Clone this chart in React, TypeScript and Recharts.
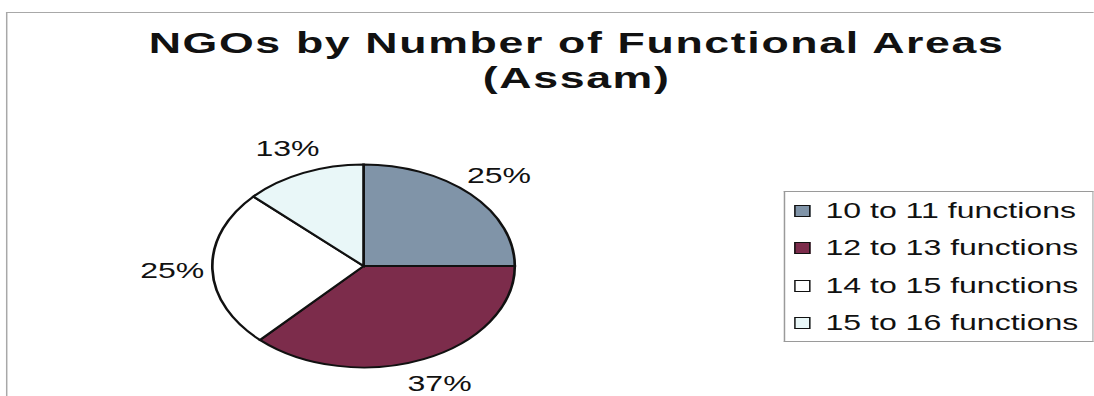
import React from "react";
import { PieChart, Pie, Cell, Legend } from "recharts";

const categories = ["10 to 11 functions", "12 to 13 functions", "14 to 15 functions", "15 to 16 functions"];
const shares = [25, 37, 25, 13];
const colors = ["#8094A8", "#7C2C4B", "#FFFFFF", "#E9F7F8"];
const titleLines = ["NGOs by Number of Functional Areas", "(Assam)"];

const data = categories.map((name, i) => ({ name, value: shares[i], color: colors[i] }));

const FULL_W = 1094;
const H = 396;
const SX = 1.49;
const W = FULL_W / SX;
const RAD = Math.PI / 180;
const FONT = "'Liberation Sans', Arial, sans-serif";

const renderLabel = (props: any) => {
  const { cx, cy, midAngle, outerRadius, value } = props;
  const r = outerRadius + 27;
  const x = cx + r * Math.cos(-midAngle * RAD);
  const y = cy + r * Math.sin(-midAngle * RAD);
  return (
    <text x={x} y={y} textAnchor="middle" dominantBaseline="central" fontFamily={FONT} fontSize={21.5} fill="#111">
      {`${value}%`}
    </text>
  );
};

const renderLegend = (props: any) => {
  const { payload } = props;
  return (
    <div
      style={{
        border: "1px solid #9a9a9a",
        borderRight: "1px solid #bbb",
        width: 208,
        height: 151,
        boxSizing: "border-box",
        paddingTop: 0,
        paddingLeft: 6,
        fontFamily: FONT,
      }}
    >
      {(payload || []).map((entry: any, i: number) => (
        <div key={i} style={{ display: "flex", alignItems: "center", height: 37.5, whiteSpace: "nowrap" }}>
          <span
            style={{
              display: "inline-block",
              width: 9,
              height: 10,
              border: "1.6px solid #111",
              background: entry.payload ? entry.payload.color : entry.color,
              marginRight: 10,
            }}
          />
          <span style={{ fontSize: 21.5, color: "#111", lineHeight: "22px" }}>{entry.value}</span>
        </div>
      ))}
    </div>
  );
};

export default function App() {
  return (
    <div style={{ position: "absolute", left: 0, top: 0, width: FULL_W, height: H, overflow: "hidden", background: "#fff" }}>
      <div style={{ width: W, height: H, transform: `scaleX(${SX})`, transformOrigin: "0 0", position: "relative" }}>
        <div
          style={{
            position: "absolute",
            left: 4,
            top: 12,
            width: W - 4,
            height: H - 12,
            borderTop: "1.5px solid #a8a8a8",
            borderLeft: "1.5px solid #a8a8a8",
            boxSizing: "border-box",
          }}
        />
        <PieChart width={W} height={H} margin={{ top: 0, right: 0, bottom: 0, left: 0 }}>
          <text x={387} y={53} textAnchor="middle" fontFamily={FONT} fontWeight="bold" fontSize={30} letterSpacing={1.1} fill="#111">
            {titleLines[0]}
          </text>
          <text x={387} y={88} textAnchor="middle" fontFamily={FONT} fontWeight="bold" fontSize={30} letterSpacing={1.1} fill="#111">
            {titleLines[1]}
          </text>
          <Pie
            data={data}
            dataKey="value"
            nameKey="name"
            cx={244}
            cy={266}
            outerRadius={101.5}
            startAngle={90}
            endAngle={-270}
            stroke="#111"
            strokeWidth={1.8}
            label={renderLabel}
            labelLine={false}
            isAnimationActive={false}
          >
            {data.map((d, i) => (
              <Cell key={i} fill={d.color} />
            ))}
          </Pie>
          <Legend
            layout="vertical"
            content={renderLegend}
            wrapperStyle={{ position: "absolute", left: 526, top: 191, width: 208, height: 151 }}
          />
        </PieChart>
      </div>
    </div>
  );
}
